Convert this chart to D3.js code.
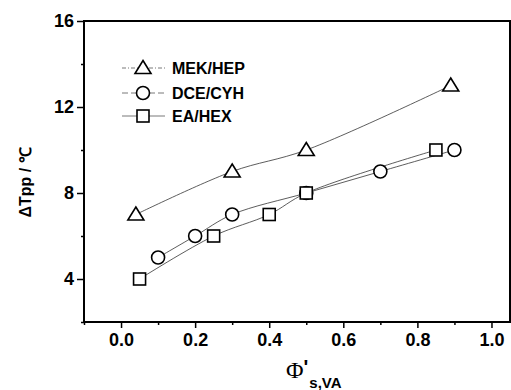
<!DOCTYPE html>
<html>
<head>
<meta charset="utf-8">
<script src="https://cdn.jsdelivr.net/npm/d3@7"></script>
<style>
  body { margin: 0; background: #fff; }
</style>
</head>
<body>
<div id="chart"></div>
<script>
const mekX = [0.04, 0.3, 0.5, 0.89];
const mekY = [7, 9, 10, 13];
const dceX = [0.1, 0.2, 0.3, 0.5, 0.7, 0.9];
const dceY = [5, 6, 7, 8, 9, 10];
const eaX = [0.05, 0.25, 0.4, 0.5, 0.85];
const eaY = [4, 6, 7, 8, 10];
const seriesNames = ["MEK/HEP", "DCE/CYH", "EA/HEX"];
const xTicks = [0.0, 0.2, 0.4, 0.6, 0.8, 1.0];
const yTicks = [4, 8, 12, 16];

const width = 511, height = 390;
const margin = {left: 84, right: 1, top: 21, bottom: 68};
const sans = "Arial, 'Liberation Sans', sans-serif";

const svg = d3.select("#chart").append("svg")
    .attr("width", width)
    .attr("height", height);

const x = d3.scaleLinear().domain([-0.1, 1.05]).range([margin.left, width - margin.right]);
const y = d3.scaleLinear().domain([2, 16]).range([height - margin.bottom, margin.top]);

// minor ticks first, in their own groups
svg.append("g").attr("transform", `translate(0,${y(2)})`)
    .call(d3.axisBottom(x).tickValues([-0.1, 0.1, 0.3, 0.5, 0.7, 0.9]).tickSize(3).tickFormat(""))
    .call(g => g.select(".domain").remove())
    .selectAll("line").attr("stroke-width", 1.5);
svg.append("g").attr("transform", `translate(${x(-0.1)},0)`)
    .call(d3.axisLeft(y).tickValues([2, 6, 10, 14]).tickSize(3).tickFormat(""))
    .call(g => g.select(".domain").remove())
    .selectAll("line").attr("stroke-width", 1.5);

// major ticks + labels
const xAxis = svg.append("g").attr("transform", `translate(0,${y(2)})`)
    .call(d3.axisBottom(x).tickValues(xTicks).tickFormat(d3.format(".1f")).tickSize(6).tickPadding(5));
const yAxis = svg.append("g").attr("transform", `translate(${x(-0.1)},0)`)
    .call(d3.axisLeft(y).tickValues(yTicks).tickSize(7).tickPadding(3));

[xAxis, yAxis].forEach(g => {
    g.select(".domain").remove();
    g.selectAll("line").attr("stroke-width", 1.5);
    g.selectAll("text")
        .style("font-family", sans)
        .style("font-size", "18px")
        .style("font-weight", "bold")
        .attr("fill", "#000");
});

// frame
svg.append("rect")
    .attr("x", x(-0.1)).attr("y", y(16))
    .attr("width", x(1.05) - x(-0.1)).attr("height", y(2) - y(16))
    .attr("fill", "none").attr("stroke", "#000").attr("stroke-width", 2);

// axis titles
svg.append("text")
    .attr("transform", `translate(31,${(y(16) + y(2)) / 2 + 11}) rotate(-90)`)
    .attr("text-anchor", "middle")
    .style("font-family", sans)
    .style("font-size", "16px").style("font-weight", "bold")
    .text("\u0394Tpp / \u2103");

const xt = svg.append("text")
    .attr("x", 286).attr("y", 378)
    .style("font-family", sans)
    .style("font-weight", "bold");
xt.append("tspan").style("font-family", "'Liberation Serif', 'DejaVu Serif', serif")
    .style("font-size", "24px").style("font-weight", "normal").text("\u03A6");
xt.append("tspan").style("font-size", "20px").attr("dy", -4).text("'");
xt.append("tspan").style("font-size", "15px").attr("dy", 14).attr("dx", 1).text("s,VA");

// lines + markers
const series = [
    {name: seriesNames[0], xs: mekX, ys: mekY, shape: "tri"},
    {name: seriesNames[1], xs: dceX, ys: dceY, shape: "circle"},
    {name: seriesNames[2], xs: eaX, ys: eaY, shape: "square"}
];

const line = d3.line()
    .x(d => x(d[0])).y(d => y(d[1]))
    .curve(d3.curveCatmullRom.alpha(0.5));

function marker(g, shape, cx, cy) {
    if (shape === "tri") {
        g.append("path")
            .attr("d", `M${cx},${cy - 7.5}L${cx + 8},${cy + 5.5}L${cx - 8},${cy + 5.5}Z`)
            .attr("fill", "#fff").attr("stroke", "#000").attr("stroke-width", 1.6);
    } else if (shape === "circle") {
        g.append("circle").attr("cx", cx).attr("cy", cy).attr("r", 6.5)
            .attr("fill", "#fff").attr("stroke", "#000").attr("stroke-width", 1.6);
    } else {
        g.append("rect").attr("x", cx - 6).attr("y", cy - 6).attr("width", 12).attr("height", 12)
            .attr("fill", "#fff").attr("stroke", "#000").attr("stroke-width", 1.6);
    }
}

series.forEach(s => {
    const pts = s.xs.map((v, i) => [v, s.ys[i]]);
    svg.append("path").datum(pts)
        .attr("d", line)
        .attr("fill", "none").attr("stroke", "#333").attr("stroke-width", 0.8);
});
series.forEach(s => {
    const g = svg.append("g");
    s.xs.forEach((v, i) => marker(g, s.shape, x(v), y(s.ys[i])));
});

// legend
const legendY = [68, 93, 116];
const dashes = ["4,2,1,2", "6,3", null];
series.forEach((s, i) => {
    const g = svg.append("g");
    g.append("line").attr("x1", 122).attr("x2", 165)
        .attr("y1", legendY[i]).attr("y2", legendY[i])
        .attr("stroke", "#555").attr("stroke-width", 0.8)
        .attr("stroke-dasharray", dashes[i]);
    marker(g, s.shape, 143, legendY[i]);
    g.append("text").attr("x", 172).attr("y", legendY[i] + 6)
        .style("font-family", sans)
        .style("font-size", "16px").style("font-weight", "bold")
        .text(s.name);
});
</script>
</body>
</html>
